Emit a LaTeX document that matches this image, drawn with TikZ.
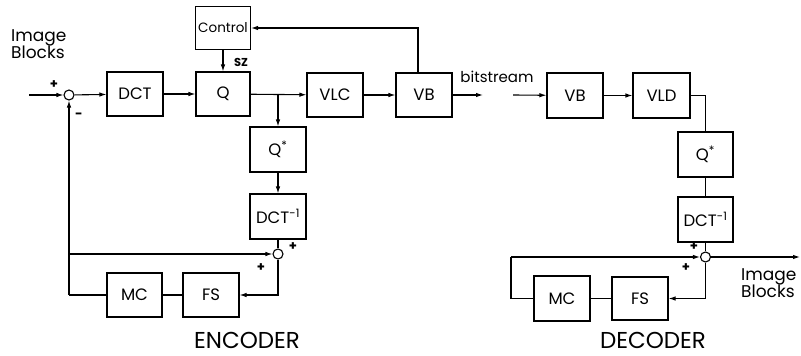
\documentclass[tikz,border=0pt]{standalone}
\usepackage{fontspec}
\setmainfont{Poppins}
\usetikzlibrary{arrows.meta}
\begin{document}
\begin{tikzpicture}[x=1pt,y=-1pt,
  blk/.style={draw, line width=1.1pt, minimum width=56pt, minimum height=44pt, inner sep=0pt, font=\fontsize{16.5}{16.5}\selectfont},
  sumc/.style={draw, circle, line width=1.1pt, minimum size=10pt, inner sep=0pt},
  wire/.style={line width=1.1pt},
  arr/.style={wire, -{Latex[length=7pt,width=4.5pt]}},
  sgn/.style={font=\fontsize{13}{13}\selectfont\bfseries, inner sep=0pt},
  lbl/.style={font=\fontsize{17}{17.5}\selectfont, inner sep=0pt, align=left},
  big/.style={font=\fontsize{23}{23}\selectfont, inner sep=0pt}]
\useasboundingbox (0,0) rectangle (801,356);
% ---------- Encoder ----------
\node[sumc] (s1) at (69,95) {};
\node[blk] (dct) at (135,94) {DCT};
\node[blk, minimum width=54pt] (q) at (223,94) {Q};
\node[blk, minimum width=55pt, minimum height=43pt, font=\fontsize{13.5}{13.5}\selectfont] (ctl) at (223,28) {Control};
\node[blk] (vlc) at (335,95) {VLC};
\node[blk] (vb) at (424,95) {VB};
\node[blk, minimum height=45pt] (qs) at (278,149.5) {Q\textsuperscript{*}};
\node[blk, minimum height=45pt] (idct) at (278,216.5) {DCT\textsuperscript{-1}};
\node[sumc] (s2) at (278,254) {};
\node[blk] (fs) at (211,295) {FS};
\node[blk, minimum width=55pt] (mc) at (134.5,295) {MC};
\coordinate (in) at (29,95);
\coordinate (br) at (278,95);
\coordinate (fb1) at (69,295);
\coordinate (fb2) at (69,254);
\coordinate (bs1) at (483,95);
\coordinate (bs2) at (513,95);

\draw[arr] (in) -- (s1);
\draw[arr] (s1) -- (dct);
\draw[arr] (dct) -- (q);
\draw[arr] (ctl) -- (q);
\draw[arr] (q) -- (vlc);
\draw[arr] (br) -- (qs);
\draw[arr] (vlc) -- (vb);
\draw[arr] (vb) -- (bs1);
\draw[arr] ([xshift=-6pt]vb.north) |- (ctl.east);
\draw[arr] (qs) -- (idct);
\draw[wire] (idct) -- (s2);
\draw[arr] (s2) |- (fs.east);
\draw[wire] (fs) -- (mc);
\draw[wire] (mc.west) -- (fb1);
\draw[arr] (fb1) -- (s1);
\draw[arr] (fb2) -- (s2);

\node[lbl, anchor=west] (ib1) at (11,44) {Image\\Blocks};
\node[sgn] (p1) at (54,85) {+};
\node[sgn] (m1) at (79,116) {-};
\node[sgn, font=\fontsize{11.5}{11.5}\selectfont\bfseries] (sz) at (241,62) {SZ};
\node[sgn] (p2) at (293,247) {+};
\node[sgn] (p3) at (261,268) {+};
\node[lbl, font=\fontsize{15}{15}\selectfont] (bst) at (497,77) {bitstream};
\node[big] (enc) at (247,340) {ENCODER};

% ---------- Decoder ----------
\node[blk, minimum height=45pt] (vb2) at (575,95.5) {VB};
\node[blk, minimum width=57pt, minimum height=45pt] (vld) at (661.5,95.5) {VLD};
\node[blk, minimum width=55pt, minimum height=45pt] (qs2) at (705.5,154.5) {Q\textsuperscript{*}};
\node[blk, minimum width=55pt, minimum height=45pt] (idct2) at (705.5,219.5) {DCT\textsuperscript{-1}};
\node[sumc] (s3) at (705.5,257) {};
\node[blk, minimum height=43pt] (fs2) at (640,298.5) {FS};
\node[blk, minimum height=45pt] (mc2) at (562,298.5) {MC};
\coordinate (out) at (800,257);
\coordinate (lp1) at (511,257);
\coordinate (lp2) at (511,298.5);

\draw[arr] (bs2) -- (vb2);
\draw[arr] (vb2) -- (vld);
\draw[wire] (vld.east) -| (qs2.north);
\draw[wire] (qs2) -- (idct2);
\draw[wire] (idct2) -- (s3);
\draw[arr] (s3) -- (out);
\draw[arr] (s3) |- (fs2.east);
\draw[wire] (fs2) -- (mc2);
\draw[wire] (mc2.west) -- (lp2) -- (lp1);
\draw[arr] (lp1) -- (s3);

\node[sgn] (p4) at (694,247) {+};
\node[sgn] (p5) at (686,268) {+};
\node[lbl, anchor=west] (ib2) at (741,283) {Image\\Blocks};
\node[big] (dec) at (653,340) {DECODER};
\end{tikzpicture}
\end{document}
